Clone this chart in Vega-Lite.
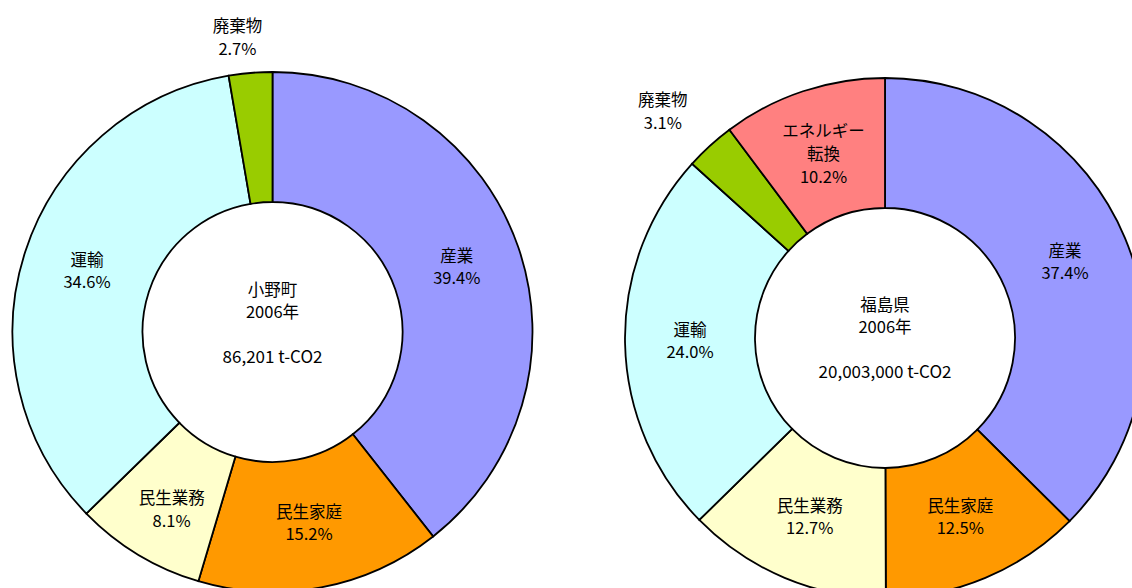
{
  "$schema": "https://vega.github.io/schema/vega-lite/v6.json",
  "padding": 0,
  "bounds": "flush",
  "background": "white",
  "config": {"view": {"stroke": null}, "text": {"font": "Noto Sans CJK JP", "fontSize": 16.5, "color": "#000000"}},
  "datasets": {
    "sectors": [
      {"area": "小野町", "rank": 1, "cat": "産業", "label": "産業\n39.4%", "pct": 39.4},
      {"area": "小野町", "rank": 2, "cat": "民生家庭", "label": "民生家庭\n15.2%", "pct": 15.2},
      {"area": "小野町", "rank": 3, "cat": "民生業務", "label": "民生業務\n8.1%", "pct": 8.1},
      {"area": "小野町", "rank": 4, "cat": "運輸", "label": "運輸\n34.6%", "pct": 34.6},
      {"area": "小野町", "rank": 5, "cat": "廃棄物", "label": "廃棄物\n2.7%", "pct": 2.7},
      {"area": "福島県", "rank": 1, "cat": "産業", "label": "産業\n37.4%", "pct": 37.4},
      {"area": "福島県", "rank": 2, "cat": "民生家庭", "label": "民生家庭\n12.5%", "pct": 12.5},
      {"area": "福島県", "rank": 3, "cat": "民生業務", "label": "民生業務\n12.7%", "pct": 12.7},
      {"area": "福島県", "rank": 4, "cat": "運輸", "label": "運輸\n24.0%", "pct": 24.0},
      {"area": "福島県", "rank": 5, "cat": "廃棄物", "label": "廃棄物\n3.1%", "pct": 3.1},
      {"area": "福島県", "rank": 6, "cat": "エネルギー転換", "label": "エネルギー\n転換\n10.2%", "pct": 10.2}
    ],
    "centers": [
      {"area": "小野町", "name": "小野町\n2006年", "amount": "86,201 t-CO2"},
      {"area": "福島県", "name": "福島県\n2006年", "amount": "20,003,000 t-CO2"}
    ]
  },
  "spacing": 60,
  "hconcat": [
    {
      "width": 545,
      "height": 664,
      "layer": [
        {
          "data": {"name": "sectors"},
          "transform": [{"filter": "datum.area === '小野町'"}],
          "mark": {"type": "arc", "radius": 260, "radius2": 130, "stroke": "#000000", "strokeWidth": 1.8},
          "encoding": {
            "theta": {"field": "pct", "type": "quantitative", "stack": true},
            "order": {"field": "rank", "type": "quantitative"},
            "color": {"field": "cat", "type": "nominal", "legend": null,
              "scale": {"domain": ["産業", "民生家庭", "民生業務", "運輸", "廃棄物", "エネルギー転換"],
                        "range": ["#9999FF", "#FF9900", "#FFFFCC", "#CCFFFF", "#99CC00", "#FF8080"]}}
          }
        },
        {
          "data": {"name": "sectors"},
          "transform": [{"filter": "datum.area === '小野町'"}],
          "mark": {"type": "text", "clip": true, "radius": 195, "lineBreak": "\n", "lineHeight": 22, "align": "center", "baseline": "middle", "dy": -11},
          "encoding": {
            "theta": {"field": "pct", "type": "quantitative", "stack": true},
            "order": {"field": "rank", "type": "quantitative"},
            "text": {"condition": {"test": "datum.cat === '廃棄物' || datum.cat === '民生業務'", "value": ""}, "field": "label"}
          }
        },
        {
          "data": {"name": "sectors"},
          "transform": [{"filter": "datum.area === '小野町'"}],
          "mark": {"type": "text", "clip": true, "radius": 195, "lineBreak": "\n", "lineHeight": 23, "align": "center", "baseline": "middle", "dy": 0},
          "encoding": {
            "theta": {"field": "pct", "type": "quantitative", "stack": true},
            "order": {"field": "rank", "type": "quantitative"},
            "text": {"condition": {"test": "datum.cat !== '民生業務'", "value": ""}, "field": "label"}
          }
        },
        {
          "data": {"name": "sectors"},
          "transform": [{"filter": "datum.area === '小野町'"}],
          "mark": {"type": "text", "clip": true, "radius": 296, "lineBreak": "\n", "lineHeight": 23, "align": "center", "baseline": "middle", "dx": -10, "dy": -10},
          "encoding": {
            "theta": {"field": "pct", "type": "quantitative", "stack": true},
            "order": {"field": "rank", "type": "quantitative"},
            "text": {"condition": {"test": "datum.cat !== '廃棄物'", "value": ""}, "field": "label"}
          }
        },
        {
          "data": {"name": "centers"},
          "transform": [{"filter": "datum.area === '小野町'"}],
          "mark": {"type": "text", "lineBreak": "\n", "lineHeight": 22, "align": "center", "baseline": "middle", "dy": -41},
          "encoding": {"text": {"field": "name"}}
        },
        {
          "data": {"name": "centers"},
          "transform": [{"filter": "datum.area === '小野町'"}],
          "mark": {"type": "text", "fontSize": 17, "align": "center", "baseline": "middle", "dy": 26},
          "encoding": {"text": {"field": "amount"}}
        }
      ]
    },
    {
      "width": 560,
      "height": 676,
      "layer": [
        {
          "data": {"name": "sectors"},
          "transform": [{"filter": "datum.area === '福島県'"}],
          "mark": {"type": "arc", "radius": 260, "radius2": 130, "stroke": "#000000", "strokeWidth": 1.8},
          "encoding": {
            "theta": {"field": "pct", "type": "quantitative", "stack": true},
            "order": {"field": "rank", "type": "quantitative"},
            "color": {"field": "cat", "type": "nominal", "legend": null,
              "scale": {"domain": ["産業", "民生家庭", "民生業務", "運輸", "廃棄物", "エネルギー転換"],
                        "range": ["#9999FF", "#FF9900", "#FFFFCC", "#CCFFFF", "#99CC00", "#FF8080"]}}
          }
        },
        {
          "data": {"name": "sectors"},
          "transform": [{"filter": "datum.area === '福島県'"}],
          "mark": {"type": "text", "clip": true, "radius": 195, "lineBreak": "\n", "lineHeight": 22, "align": "center", "baseline": "middle", "dy": -11},
          "encoding": {
            "theta": {"field": "pct", "type": "quantitative", "stack": true},
            "order": {"field": "rank", "type": "quantitative"},
            "text": {"condition": {"test": "datum.cat === '廃棄物' || datum.cat === 'エネルギー転換'", "value": ""}, "field": "label"}
          }
        },
        {
          "data": {"name": "sectors"},
          "transform": [{"filter": "datum.area === '福島県'"}],
          "mark": {"type": "text", "clip": true, "radius": 195, "lineBreak": "\n", "lineHeight": 23, "align": "center", "baseline": "middle", "dy": -21},
          "encoding": {
            "theta": {"field": "pct", "type": "quantitative", "stack": true},
            "order": {"field": "rank", "type": "quantitative"},
            "text": {"condition": {"test": "datum.cat !== 'エネルギー転換'", "value": ""}, "field": "label"}
          }
        },
        {
          "data": {"name": "sectors"},
          "transform": [{"filter": "datum.area === '福島県'"}],
          "mark": {"type": "text", "clip": true, "radius": 318, "lineBreak": "\n", "lineHeight": 23, "align": "center", "baseline": "middle", "dx": -8, "dy": -2},
          "encoding": {
            "theta": {"field": "pct", "type": "quantitative", "stack": true},
            "order": {"field": "rank", "type": "quantitative"},
            "text": {"condition": {"test": "datum.cat !== '廃棄物'", "value": ""}, "field": "label"}
          }
        },
        {
          "data": {"name": "centers"},
          "transform": [{"filter": "datum.area === '福島県'"}],
          "mark": {"type": "text", "lineBreak": "\n", "lineHeight": 22, "align": "center", "baseline": "middle", "dy": -32},
          "encoding": {"text": {"field": "name"}}
        },
        {
          "data": {"name": "centers"},
          "transform": [{"filter": "datum.area === '福島県'"}],
          "mark": {"type": "text", "fontSize": 17, "align": "center", "baseline": "middle", "dy": 35},
          "encoding": {"text": {"field": "amount"}}
        }
      ]
    }
  ]
}
